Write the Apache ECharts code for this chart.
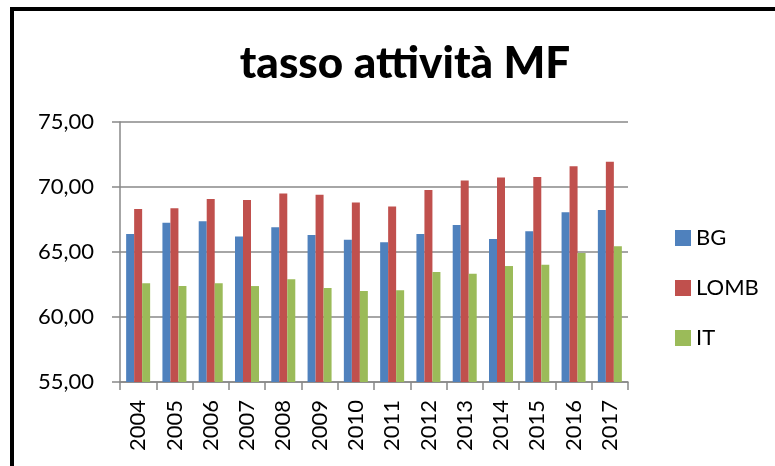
<!DOCTYPE html>
<html>
<head>
<meta charset="utf-8">
<script src="https://cdn.jsdelivr.net/npm/echarts@6/dist/echarts.min.js"></script>
<style>
  html, body { margin: 0; padding: 0; background: #fff; }
  #chart { width: 775px; height: 466px; }
</style>
</head>
<body>
<div id="chart"></div>
<script>
// dati
const anni = ['2004', '2005', '2006', '2007', '2008', '2009', '2010', '2011', '2012', '2013', '2014', '2015', '2016', '2017'];
const bg = [66.38, 67.25, 67.36, 66.2, 66.9, 66.3, 65.95, 65.75, 66.38, 67.08, 66.0, 66.59, 68.05, 68.23];
const lomb = [68.3, 68.36, 69.08, 69.0, 69.5, 69.4, 68.8, 68.5, 69.77, 70.5, 70.74, 70.77, 71.6, 71.95];
const it = [62.6, 62.38, 62.6, 62.38, 62.9, 62.23, 62.0, 62.05, 63.46, 63.33, 63.92, 64.02, 64.92, 65.44];

const font = 'Lato';
const chart = echarts.init(document.getElementById('chart'));

const barSeries = (name, data, color) => ({
    name: name,
    type: 'bar',
    data: data,
    barWidth: 8,
    barGap: '0%',
    itemStyle: { color: color },
    animation: false
});

chart.setOption({
    animation: false,
    title: {
        text: 'tasso attività MF',
        left: 400,
        textAlign: 'center',
        top: 37,
        textStyle: { fontFamily: font, fontSize: 44, fontWeight: 900, color: '#000' }
    },
    grid: { left: 120, right: 147, top: 122, bottom: 84 },
    legend: {
        orient: 'vertical',
        left: 670,
        top: 222,
        itemWidth: 16,
        itemHeight: 16,
        itemGap: 28,
        icon: 'rect',
        textStyle: { fontFamily: font, fontSize: 22, color: '#000' },
        data: ['BG', 'LOMB', 'IT']
    },
    xAxis: {
        type: 'category',
        data: anni,
        axisLine: { lineStyle: { color: '#888', width: 1.5 } },
        axisTick: { show: true, length: 8, lineStyle: { color: '#888', width: 1.5 } },
        axisLabel: { rotate: 90, fontFamily: font, fontSize: 22, color: '#000', margin: 18 }
    },
    yAxis: {
        type: 'value',
        min: 55,
        max: 75,
        interval: 5,
        axisLine: { show: true, lineStyle: { color: '#888', width: 1.5 } },
        axisTick: { show: true, length: 8, lineStyle: { color: '#888', width: 1.5 } },
        splitLine: { lineStyle: { color: '#888', width: 1.5 } },
        axisLabel: {
            fontFamily: font, fontSize: 22, color: '#000', margin: 26,
            formatter: v => v.toFixed(2).replace('.', ',')
        }
    },
    series: [
        barSeries('BG', bg, '#4f81bd'),
        barSeries('LOMB', lomb, '#c0504d'),
        barSeries('IT', it, '#9bbb59')
    ],
    graphic: [{
        type: 'rect',
        shape: { x: 12, y: 9, width: 800, height: 500 },
        style: { fill: 'none', stroke: '#000', lineWidth: 4 },
        silent: true
    }]
});
</script>
</body>
</html>
